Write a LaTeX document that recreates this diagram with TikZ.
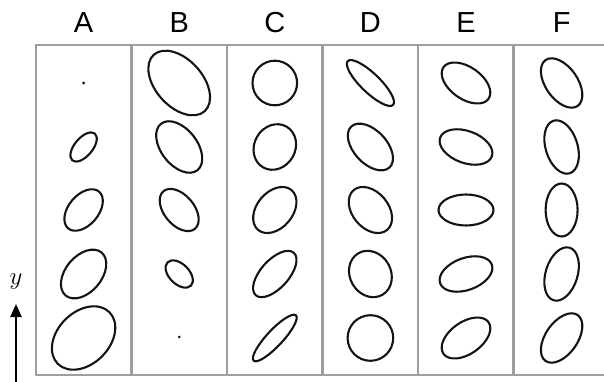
\documentclass[tikz,border=0pt]{standalone}
\usepackage{fontspec}
\setsansfont{Liberation Sans}
\usetikzlibrary{arrows.meta}
\begin{document}
\begin{tikzpicture}[x=1pt,y=1pt,
  frame/.style={draw=black!38, line width=2.2pt},
  ellstroke/.style={draw=black!92, line width=2.1pt},
  collabel/.style={font=\sffamily\fontsize{29}{31}\selectfont, inner sep=0pt, anchor=base},
  dotmark/.style={fill=black, draw=none}]
\useasboundingbox (0,0) rectangle (604,381);
% frame
\draw[frame] (604,336) -- (36,336) -- (36,6) -- (604,6);
\foreach \x in {131.5,227,322.5,418,513.5}
  \draw[frame] (\x,336) -- (\x,6);
% column labels
\node[collabel] (la) at (83.6,348.5) {A};
\node[collabel] (lb) at (179.2,348.5) {B};
\node[collabel] (lc) at (274.8,348.5) {C};
\node[collabel] (ld) at (370.4,348.5) {D};
\node[collabel] (le) at (466,348.5) {E};
\node[collabel] (lf) at (561.6,348.5) {F};
% dots
\fill[dotmark] (83.6,298) circle (1.4);
\fill[dotmark] (179.2,44) circle (1.4);
% ellipses: x, y, a, b, angle
\foreach \cx/\cy/\ra/\rb/\ang in {
  83.6/234/17.5/9/50, 83.6/171/24/15/50, 83.6/107/28/18/50, 83.6/43/36.5/26/45,
  179.2/298/38/23.5/-48, 179.2/234/29.5/18/-52, 179.2/171/24.5/15/-50, 179.2/107/16.5/10/-45,
  274.8/298/22.3/22.3/0, 274.8/234/23.5/20.5/60, 274.8/171/26/18/50, 274.8/107/28.5/14/48, 274.8/43/31/8/47,
  370.4/298/31.5/9.5/-44, 370.4/234/28/16.5/-47, 370.4/171/26/18/-50, 370.4/107/24/20.5/-60, 370.4/43/22.8/22.8/0,
  466/298/27.5/16/-35, 466/234/27.5/16/-20, 466/171/27.5/15.5/0, 466/107/27.5/16/20, 466/43/27.5/16/35,
  561.6/298/28/16/-55, 561.6/234/27.5/16/-73, 561.6/171/26.5/16/90, 561.6/107/27.5/16/73, 561.6/43/28/16/55}
  \draw[ellstroke, shift={(\cx,\cy)}, rotate=\ang] (0,0) ellipse [x radius=\ra, y radius=\rb];
% y axis arrow
\coordinate (abot) at (16,-2);
\coordinate (atip) at (16,77);
\draw[line width=2.4pt, -{Triangle[length=13pt,width=11pt]}] (abot) -- (atip);
\node[font=\fontsize{23}{25}\selectfont, inner sep=0pt] (ylab) at (16,99) {$y$};
\end{tikzpicture}
\end{document}
